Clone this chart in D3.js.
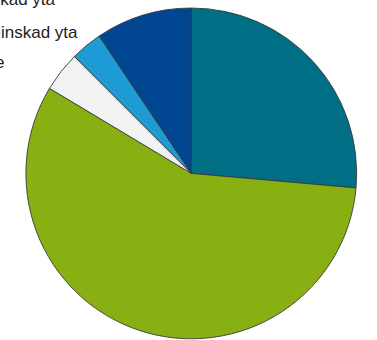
<!DOCTYPE html>
<html>
<head>
<meta charset="utf-8">
<script src="https://cdn.jsdelivr.net/npm/d3@7"></script>
<style>
  html, body { margin: 0; padding: 0; background: #fff; }
  svg { display: block; }
</style>
</head>
<body>
<div id="container"></div>
<script>
const categories = ["Ökad yta", "Oförändrad yta", "Något minskad yta", "Kraftigt minskad yta", "Vet inte"];
const values = [26.4, 57.2, 3.9, 3.1, 9.4];
const colors = ["#006f86", "#88b013", "#f2f2f2", "#1e9bd5", "#004690"];

const w = 377;
const h = 340;
const cx = 191.3;
const cy = 173.4;
const radius = 165.4;

// legend is cut off on the left; only the tail of the last three labels shows
const legendRight = [null, null, 55, 77.5, 4.5];
const legendBaseline = [-58, -27, 5, 37.5, 68];

const data = categories.map((c, i) => ({ name: c, value: values[i], color: colors[i] }));

const svg = d3
  .select("#container")
  .append("svg")
  .attr("width", w)
  .attr("height", h);

const pie = d3.pie().sort(null).value(d => d.value);
const arc = d3.arc().innerRadius(0).outerRadius(radius);

svg
  .append("g")
  .attr("transform", "translate(" + cx + "," + cy + ")")
  .selectAll("path")
  .data(pie(data))
  .enter()
  .append("path")
  .attr("d", arc)
  .attr("fill", d => d.data.color)
  .attr("stroke", "#3a3a3a")
  .attr("stroke-width", 0.9)
  .attr("stroke-linejoin", "round");

svg
  .append("g")
  .selectAll("text")
  .data(data)
  .enter()
  .append("text")
  .attr("x", (d, i) => legendRight[i] === null ? 0 : legendRight[i])
  .attr("y", (d, i) => legendBaseline[i])
  .attr("text-anchor", "end")
  .attr("font-family", "Liberation Sans, Arial, sans-serif")
  .attr("font-size", 17)
  .attr("fill", "#222")
  .text(d => d.name);
</script>
</body>
</html>
